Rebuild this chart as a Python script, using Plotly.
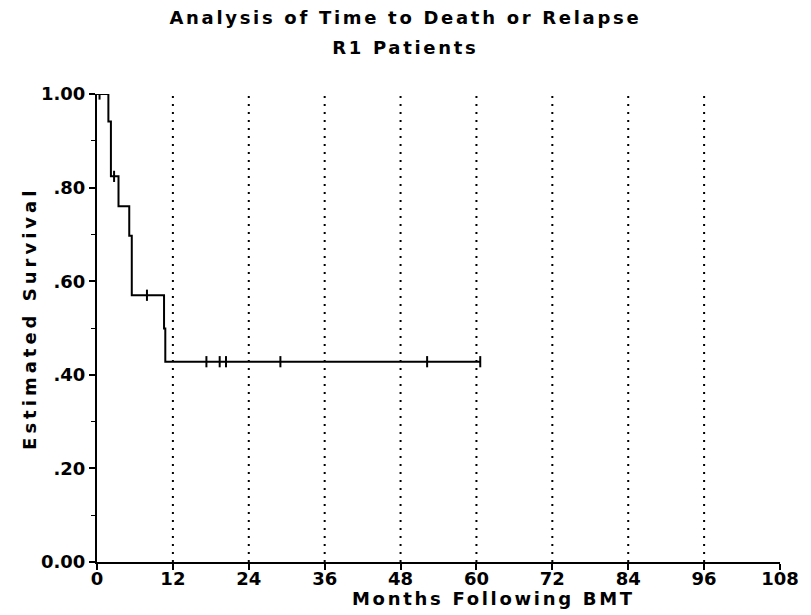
import plotly.graph_objects as go

# Kaplan-Meier estimate
step_times = [0, 1.8, 2.2, 3.4, 5.1, 5.5, 10.6, 10.8, 60.6]
step_surv = [1.000, 0.941, 0.824, 0.760, 0.697, 0.570, 0.499, 0.428, 0.428]
censor_times = [0.4, 2.7, 7.9, 17.3, 19.4, 20.4, 29.0, 52.2, 60.6]
ref_lines = [12, 24, 36, 48, 60, 72, 84, 96]
x_ticks = [0, 12, 24, 36, 48, 60, 72, 84, 96, 108]
y_ticks = [0.0, 0.2, 0.4, 0.6, 0.8, 1.0]
y_ticklabels = ["0.00", ".20", ".40", ".60", ".80", "1.00"]
title_lines = ["Analysis of Time to Death or Relapse", "R1 Patients"]
x_title = "Months Following BMT"
y_title = "Estimated Survival"


def surv_at(t):
    s = step_surv[0]
    for tt, ss in zip(step_times, step_surv):
        if tt <= t:
            s = ss
    return s


censor_surv = [surv_at(t) for t in censor_times]

FONT = "DejaVu Sans"
W, H = 811, 615
ML, MR, MT, MB = 97, 22, 94, 53
PW, PH = W - ML - MR, H - MT - MB


def px_x(p):
    return (p - ML) / PW


def px_y(p):
    return (H - MB - p) / PH


fig = go.Figure()

# dotted reference lines
rx, ry = [], []
for t in ref_lines:
    rx += [t, t, None]
    ry += [0, 1, None]
fig.add_trace(go.Scatter(x=rx, y=ry, mode="lines",
                         line=dict(color="black", width=2, dash="2px,6px"),
                         hoverinfo="skip", showlegend=False))

fig.add_trace(go.Scatter(x=step_times, y=step_surv, mode="lines",
                         line=dict(color="black", width=2, shape="hv"),
                         showlegend=False))
fig.add_trace(go.Scatter(x=censor_times, y=censor_surv, mode="markers",
                         marker=dict(symbol="line-ns", size=8,
                                     line=dict(color="black", width=2)),
                         showlegend=False))

tick_font = dict(size=18, family=FONT, weight="bold", color="black")
title_font = dict(size=18, family=FONT, weight="bold", color="black")

fig.update_layout(
    width=W, height=H,
    paper_bgcolor="white", plot_bgcolor="white",
    margin=dict(l=ML, r=MR, t=MT, b=MB),
    font=dict(family=FONT, color="black", size=18),
    hovermode=False,
    xaxis=dict(range=[0, 108], tickvals=x_ticks, showgrid=False, zeroline=False,
               showline=True, linecolor="black", linewidth=2,
               ticks="outside", ticklen=6, tickwidth=2, tickcolor="black",
               ticklabelstandoff=-7,
               tickfont=tick_font),
    yaxis=dict(range=[0, 1], tickvals=y_ticks, ticktext=y_ticklabels,
               showgrid=False, zeroline=False,
               showline=True, linecolor="black", linewidth=2,
               ticks="outside", ticklen=6, tickwidth=2, tickcolor="black",
               minor=dict(dtick=0.1, ticks="outside", ticklen=4, tickwidth=1, tickcolor="black"),
               tickfont=tick_font),
    annotations=[
        dict(text=title_lines[0], x=px_x(410), y=px_y(18), xref="paper", yref="paper",
             showarrow=False, yanchor="middle", font=title_font, name="t1"),
        dict(text=title_lines[1], x=px_x(410), y=px_y(48), xref="paper", yref="paper",
             showarrow=False, yanchor="middle", font=title_font, name="t2"),
        dict(text=x_title, x=px_x(499), y=px_y(598), xref="paper", yref="paper",
             showarrow=False, yanchor="middle", font=title_font, name="xt"),
        dict(text=y_title, x=px_x(28), y=px_y(318), xref="paper", yref="paper",
             showarrow=False, textangle=-90, xanchor="center", yanchor="middle",
             font=title_font, name="yt"),
    ],
)

post_js = """
document.body.style.margin = '0';
document.body.style.padding = '0';
var gd = document.getElementById('{plot_id}');
var anns = gd.querySelectorAll('.annotation-text');
anns.forEach(function (el, i) {
    el.style.letterSpacing = (i === 3) ? '4px' : '2.7px';
});
"""

fig.write_html("out.html", post_script=post_js,
               config={"displayModeBar": False, "staticPlot": True})
